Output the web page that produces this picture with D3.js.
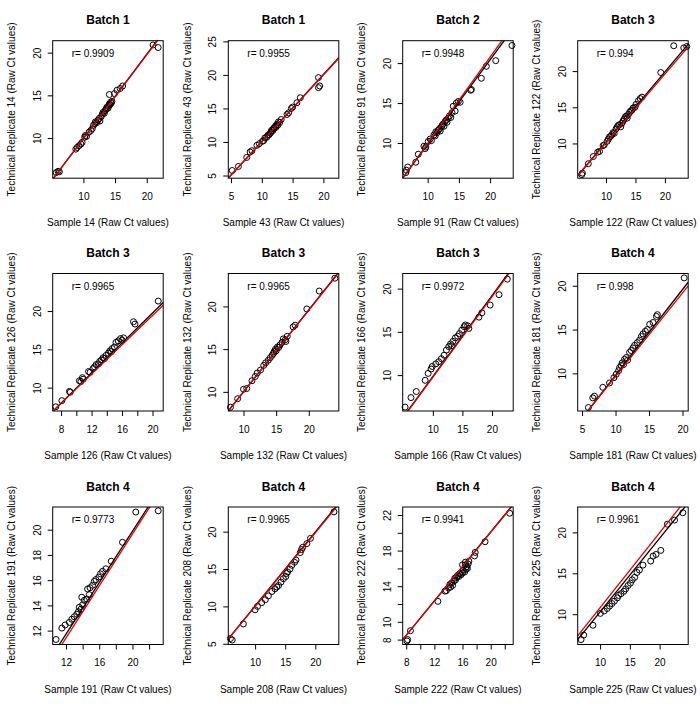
<!DOCTYPE html>
<html><head><meta charset="utf-8">
<script src="https://cdn.jsdelivr.net/npm/d3@7"></script>
<style>body{margin:0;background:#fff}svg{display:block}text{font-family:"Liberation Sans",Arial,sans-serif;fill:#000}</style>
</head><body><svg id="c" width="700" height="708"></svg>
<script>
const batchTitles = ["Batch 1","Batch 1","Batch 2","Batch 3","Batch 3","Batch 3","Batch 3","Batch 4","Batch 4","Batch 4","Batch 4","Batch 4"];
const sampleIds = [14,43,91,122,126,132,166,181,191,208,222,225];
const rLabels = ["0.9909","0.9955","0.9948","0.994","0.9965","0.9965","0.9972","0.998","0.9773","0.9965","0.9941","0.9961"];
const xDomains = [[5.15,22.6],[4.56,22.5],[6.0,23.7],[5.2,23.95],[6.9,21.4],[7.67,24.6],[4.9,23.6],[4.35,20.85],[10.4,23.7],[5.55,23.9],[7.5,23.2],[6.24,24.8]];
const yDomains = [[5.3,21.4],[4.6,25.1],[5.6,22.8],[5.2,24.2],[6.95,24.9],[7.76,23.85],[5.85,21.75],[5.7,21.4],[10.9,21.8],[4.9,23.3],[7.45,22.9],[6.3,23.1]];
const xTickValues = [[10,15,20],[5,10,15,20],[10,15,20],[10,15,20],[8,10,12,14,16,18,20],[10,15,20],[10,15,20],[5,10,15,20],[12,14,16,18,20,22],[10,15,20],[8,10,12,14,16,18,20,22],[10,15,20]];
const xTickLabels = [["10","15","20"],["5","10","15","20"],["10","15","20"],["10","15","20"],["8","","12","","16","","20"],["10","15","20"],["10","15","20"],["5","10","15","20"],["12","","16","","20",""],["10","15","20"],["8","","12","","16","","20",""],["10","15","20"]];
const yTickValues = [[10,15,20],[5,10,15,20,25],[10,15,20],[10,15,20],[10,15,20],[10,15,20],[10,15,20],[10,15,20],[12,14,16,18,20],[5,10,15,20],[8,10,12,14,16,18,20,22],[10,15,20]];
const yTickLabels = [["10","15","20"],["5","10","15","20","25"],["10","15","20"],["10","15","20"],["10","15","20"],["10","15","20"],["10","15","20"],["10","15","20"],["12","14","16","18","20"],["5","10","15","20"],["8","10","","14","","18","","22"],["10","15","20"]];
// [slope, intercept]
const fitBlack = [[0.985,0.1],[1.0,0.05],[1.058,-0.75],[0.97,0.5],[0.98,0.14],[0.96,0.4],[0.935,0.48],[0.98,-0.03],[1.02,-0.52],[0.99,0.15],[0.967,0.75],[0.9,1.28]];
const fitRed = [[0.98,0.15],[0.995,0.1],[1.082,-0.89],[0.95,0.6],[0.955,0.31],[0.955,0.45],[0.93,0.45],[0.953,0.12],[1.03,-0.945],[0.985,0.15],[0.965,0.76],[0.916,1.63]];

const pts14 = [[5.7,5.95],[6.0,6.1],[6.2,6.05],[8.8,8.7],[9.0,8.9],[9.3,9.1],[9.6,9.3],[9.8,9.5],[10.2,10.1],[10.3,10.3],[10.5,10.2],[10.9,10.7],[11.2,10.9],[11.4,11.1],[11.6,11.5],[11.8,11.7],[11.9,11.9],[12.1,11.8],[12.3,12.1],[12.5,12.3],[12.6,12.0],[12.8,12.5],[13.0,12.8],[13.1,13.0],[13.3,12.9],[13.4,13.2],[13.6,13.4],[13.7,13.6],[13.9,13.5],[14.0,13.8],[14.1,14.0],[14.2,13.9],[14.3,14.2],[14.4,14.1],[14.5,14.3],[14.1,15.1],[14.9,15.2],[15.3,15.6],[15.8,15.8],[16.2,16.1],[21.0,20.9],[21.8,20.6]];
const pts43 = [[5.2,5.75],[6.2,6.35],[7.55,7.7],[8.1,8.5],[8.4,8.7],[9.2,9.5],[9.6,9.75],[10.1,10.1],[10.3,10.2],[10.5,10.6],[10.8,10.7],[11.0,11.0],[11.2,11.1],[11.4,11.35],[11.5,11.5],[11.6,11.75],[11.8,11.7],[11.9,12.0],[12.0,12.1],[12.2,12.35],[12.3,12.2],[12.4,12.6],[12.6,12.5],[12.7,13.0],[12.9,12.9],[13.15,13.35],[14.1,14.1],[14.35,14.35],[14.8,15.0],[15.0,15.2],[15.7,15.85],[16.25,16.6],[19.2,19.6],[19.4,18.35],[19.2,18.1]];
const pts91 = [[6.5,6.3],[6.6,6.6],[6.8,7.0],[8.1,7.6],[8.5,8.6],[9.4,9.6],[9.6,9.3],[9.7,9.5],[10.1,10.2],[10.4,10.5],[10.6,10.3],[11.0,11.0],[11.2,10.9],[11.3,11.4],[11.5,11.3],[11.7,11.6],[11.9,11.8],[12.0,11.5],[12.2,12.0],[12.3,12.2],[12.5,12.4],[12.6,12.1],[12.8,12.7],[13.0,12.9],[13.1,12.6],[13.3,13.1],[13.5,13.4],[13.7,13.2],[13.9,13.8],[14.1,14.6],[14.4,14.0],[14.6,15.0],[14.9,15.2],[15.2,15.1],[16.9,16.6],[17.0,16.7],[18.6,18.1],[19.4,19.6],[20.9,20.3],[23.5,22.2]];
const pts122 = [[5.9,5.7],[6.0,5.9],[7.0,7.2],[7.85,8.2],[8.6,8.8],[8.9,8.9],[9.5,9.7],[9.7,9.8],[10.2,10.3],[10.4,10.6],[10.6,10.9],[10.8,11.0],[11.0,11.2],[11.2,11.5],[11.4,11.4],[11.7,12.0],[11.9,12.3],[12.1,12.5],[12.3,12.6],[12.5,12.3],[12.7,12.8],[12.9,13.1],[13.1,13.4],[13.3,13.7],[13.5,13.8],[13.6,13.5],[13.8,14.0],[14.0,14.3],[14.2,14.5],[14.4,14.6],[14.6,14.9],[14.9,15.0],[15.1,15.4],[15.5,15.9],[15.8,16.2],[16.1,16.4],[19.3,19.8],[21.5,23.5],[23.2,23.2],[23.7,23.4]];
const pts126 = [[7.3,7.5],[8.1,8.3],[9.1,9.5],[9.2,9.4],[10.4,10.9],[10.6,10.8],[10.8,11.3],[10.9,11.1],[11.6,12.1],[11.8,12.0],[12.2,12.5],[12.4,12.7],[12.6,13.0],[12.9,13.1],[13.05,13.4],[13.3,13.6],[13.5,13.9],[13.7,13.8],[13.9,14.2],[14.2,14.5],[14.4,14.8],[14.6,14.7],[14.7,15.1],[15.0,15.3],[15.2,15.9],[15.5,16.1],[15.8,16.4],[16.0,16.2],[16.2,16.5],[17.5,18.6],[17.7,18.3],[20.75,21.3]];
const pts132 = [[8.0,8.2],[9.1,9.2],[10.0,10.3],[10.5,10.4],[11.3,11.3],[11.8,11.8],[12.1,12.2],[12.6,12.55],[13.1,13.1],[13.4,13.4],[13.8,13.7],[14.1,14.0],[14.4,14.3],[14.6,14.5],[14.7,14.7],[14.9,15.0],[15.0,14.8],[15.2,15.25],[15.4,15.2],[15.6,15.5],[15.9,15.8],[16.1,16.2],[16.4,16.1],[16.5,15.9],[16.7,16.5],[17.6,17.6],[17.9,17.8],[19.7,19.7],[21.6,21.8],[24.0,23.3]];
const pts166 = [[5.3,6.3],[6.3,7.4],[7.2,8.1],[8.7,9.4],[9.2,10.2],[9.7,10.7],[9.9,11.0],[10.5,11.3],[11.0,11.55],[11.45,11.9],[11.9,12.3],[12.3,12.9],[12.7,13.3],[13.0,13.6],[13.2,13.4],[13.4,13.9],[13.8,14.3],[14.2,14.5],[14.5,14.8],[14.9,15.2],[15.3,15.6],[15.5,15.8],[15.9,15.7],[16.1,15.4],[17.8,16.7],[18.3,17.2],[19.7,18.1],[21.2,19.3],[22.6,21.1]];
const pts181 = [[5.95,6.1],[6.6,7.2],[6.85,7.4],[8.1,8.4],[9.1,8.9],[9.75,9.5],[10.1,9.9],[10.45,10.3],[10.6,10.65],[10.85,10.9],[11.0,11.2],[11.2,11.0],[11.35,11.6],[11.6,11.8],[11.8,11.5],[12.1,12.4],[12.35,12.6],[12.6,12.9],[12.85,13.2],[13.25,13.5],[13.6,13.8],[13.85,14.2],[14.1,14.5],[14.45,14.8],[14.75,15.0],[15.1,15.6],[15.6,15.8],[16.1,16.5],[16.25,16.7],[20.25,20.9]];
const pts191 = [[10.8,11.3],[11.5,12.2],[11.9,12.45],[12.4,12.65],[12.7,12.9],[13.0,13.1],[13.3,13.3],[13.5,13.5],[13.8,13.7],[13.6,13.85],[14.0,14.05],[14.2,14.4],[13.9,14.65],[14.5,14.5],[14.8,14.85],[14.6,15.3],[14.9,15.4],[15.2,15.6],[15.4,15.9],[15.6,16.05],[15.95,16.25],[16.15,16.5],[16.4,16.7],[16.8,16.9],[17.45,17.5],[18.8,19.0],[20.4,21.4],[23.1,21.5]];
const pts208 = [[5.9,5.7],[6.2,5.5],[8.05,7.65],[10.0,9.55],[10.4,10.0],[11.1,10.5],[11.7,10.9],[12.2,11.4],[12.8,12.0],[13.3,12.35],[13.6,12.6],[13.9,12.8],[14.3,13.25],[14.7,13.7],[15.1,14.0],[15.2,14.4],[15.4,14.6],[15.8,15.0],[16.1,15.5],[16.55,15.9],[16.8,16.2],[17.5,17.2],[17.7,17.6],[17.9,17.9],[18.6,18.4],[19.2,19.1],[23.1,22.65]];
const pts222 = [[8.1,7.85],[8.2,8.0],[8.6,9.0],[12.5,12.3],[13.5,13.45],[13.7,13.5],[14.0,13.8],[14.2,14.2],[14.3,13.9],[14.5,14.4],[14.6,14.1],[14.8,14.6],[14.9,14.9],[15.0,14.7],[15.2,15.0],[15.3,15.2],[15.5,15.1],[15.6,15.4],[15.8,15.3],[16.0,15.5],[16.1,15.8],[16.3,15.6],[16.4,16.4],[16.5,15.9],[16.6,16.2],[16.7,16.0],[16.8,16.5],[16.9,16.8],[16.4,16.7],[16.0,16.4],[17.7,17.4],[17.8,17.8],[19.2,19.0],[22.7,22.2]];
const pts225 = [[6.8,6.9],[7.25,7.45],[8.8,8.65],[10.05,10.1],[10.7,10.4],[11.2,10.7],[11.6,11.0],[12.0,11.3],[12.4,11.6],[12.9,12.0],[13.1,12.3],[13.5,12.5],[14.0,12.8],[14.3,13.1],[14.7,13.5],[15.1,13.8],[15.4,14.2],[15.8,14.5],[16.2,15.1],[16.6,15.4],[17.2,16.0],[18.5,16.5],[18.9,17.1],[19.4,17.3],[20.2,17.8],[21.3,21.0],[22.5,21.5],[23.9,22.4]];
const pointSets = [pts14,pts43,pts91,pts122,pts126,pts132,pts166,pts181,pts191,pts208,pts222,pts225];

const colLefts = [52.7, 228.3, 402.7, 577.7];
const rowTops = [40.7, 273.5, 507];
const boxW = 110.5, boxH = 137.5;
const svg = d3.select("#c");

sampleIds.forEach((id, i) => {
  const L = colLefts[i % 4], T = rowTops[Math.floor(i / 4)];
  const x = d3.scaleLinear().domain(xDomains[i]).range([L, L + boxW]);
  const y = d3.scaleLinear().domain(yDomains[i]).range([T + boxH, T]);
  const g = svg.append("g");
  const cid = "clip" + i;
  g.append("clipPath").attr("id", cid).append("rect")
    .attr("x", L).attr("y", T).attr("width", boxW).attr("height", boxH);

  // points
  g.append("g").selectAll("circle").data(pointSets[i]).join("circle")
    .attr("cx", d => x(d[0])).attr("cy", d => y(d[1])).attr("r", 3)
    .attr("fill", "none").attr("stroke", "#000").attr("stroke-width", 1);

  // fit lines
  const lineG = g.append("g").attr("clip-path", `url(#${cid})`);
  [[fitBlack[i], "#000"], [fitRed[i], "#e00000"]].forEach(([f, col]) => {
    const [x0, x1] = xDomains[i];
    lineG.append("line")
      .attr("x1", x(x0)).attr("y1", y(f[1] + f[0] * x0))
      .attr("x2", x(x1)).attr("y2", y(f[1] + f[0] * x1))
      .attr("stroke", col).attr("stroke-width", 1.3);
  });

  // box
  g.append("rect").attr("x", L).attr("y", T).attr("width", boxW).attr("height", boxH)
    .attr("fill", "none").attr("stroke", "#000").attr("stroke-width", 1);

  // x axis
  const xa = g.append("g").attr("transform", `translate(0,${T + boxH})`)
    .call(d3.axisBottom(x).tickValues(xTickValues[i]).tickFormat((d, j) => xTickLabels[i][j]).tickSize(5).tickPadding(9.5));
  xa.select(".domain").remove();
  xa.selectAll("text").attr("font-size", 10).attr("font-family", null);
  xa.selectAll("line").attr("stroke", "#000");

  // y axis
  const ya = g.append("g").attr("transform", `translate(${L},0)`)
    .call(d3.axisLeft(y).tickValues(yTickValues[i]).tickFormat((d, j) => yTickLabels[i][j]).tickSize(5));
  ya.select(".domain").remove();
  ya.selectAll("line").attr("stroke", "#000");
  ya.selectAll("text").attr("font-size", 10).attr("font-family", null)
    .attr("transform", "rotate(-90)").attr("x", 0).attr("y", -12).attr("dy", 0)
    .attr("text-anchor", "middle");

  // title
  g.append("text").attr("x", L + boxW / 2).attr("y", T - 16.5)
    .attr("text-anchor", "middle").attr("font-size", 12).attr("font-weight", "bold")
    .text(batchTitles[i]);
  // r label
  g.append("text").attr("x", L + 19).attr("y", T + 16.4).attr("font-size", 10)
    .text("r= " + rLabels[i]);
  // axis titles
  g.append("text").attr("x", L + boxW / 2).attr("y", T + boxH + 48)
    .attr("text-anchor", "middle").attr("font-size", 10)
    .text(`Sample ${id} (Raw Ct values)`);
  g.append("text").attr("transform", `translate(${L - 37.4},${T + boxH / 2}) rotate(-90)`)
    .attr("text-anchor", "middle").attr("font-size", 10)
    .text(`Technical Replicate ${id} (Raw Ct values)`);
});
</script></body></html>
